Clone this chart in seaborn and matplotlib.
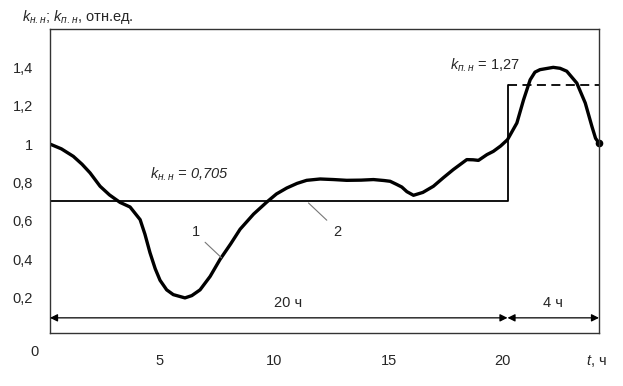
import matplotlib
matplotlib.use("Agg")
import matplotlib.pyplot as plt
import seaborn as sns
import pandas as pd

# ---- data ----
hours = [0, 0.5, 1.02, 1.4, 1.75, 2.19, 2.6, 3.06, 3.5, 3.94, 4.15, 4.37, 4.6, 4.81,
         5.1, 5.39, 5.9, 6.2, 6.56, 7.0, 7.43, 7.9, 8.31, 8.9, 9.48, 9.9, 10.35, 10.8,
         11.22, 11.81, 12.4, 12.97, 13.6, 14.14, 14.6, 14.87, 15.15, 15.38, 15.6, 15.89,
         16.3, 16.76, 17.2, 17.63, 18.22, 18.5, 18.73, 19.1, 19.38, 19.7, 20.0, 20.41,
         20.7, 20.99, 21.2, 21.42, 22.0, 22.3, 22.59, 23.03, 23.4, 23.69, 23.85, 24.0]
load = [1.00, 0.975, 0.936, 0.895, 0.85, 0.78, 0.735, 0.696, 0.672, 0.606, 0.53, 0.434,
        0.35, 0.29, 0.24, 0.215, 0.198, 0.21, 0.24, 0.31, 0.398, 0.48, 0.556, 0.635,
        0.698, 0.74, 0.771, 0.795, 0.811, 0.818, 0.815, 0.811, 0.812, 0.815, 0.81, 0.806,
        0.79, 0.776, 0.752, 0.733, 0.748, 0.78, 0.825, 0.867, 0.919, 0.918, 0.915, 0.945,
        0.962, 0.99, 1.023, 1.11, 1.23, 1.335, 1.375, 1.388, 1.40, 1.395, 1.38, 1.318,
        1.214, 1.092, 1.03, 1.005]

step_x = [0, 20, 20]
step_y = [0.705, 0.705, 1.31]
peak_x = [20, 24]
peak_y = [1.31, 1.31]

y_ticks = [0.2, 0.4, 0.6, 0.8, 1.0, 1.2, 1.4]
y_labels = ["0,2", "0,4", "0,6", "0,8", "1", "1,2", "1,4"]
x_ticks = [5, 10, 15, 20]
x_labels = ["5", "10", "15", "20"]

sns.set_style("white")
plt.rcParams['font.family'] = ['Liberation Sans', 'DejaVu Sans']
plt.rcParams['mathtext.fontset'] = 'custom'
plt.rcParams['mathtext.it'] = 'Liberation Sans:italic'
plt.rcParams['mathtext.rm'] = 'Liberation Sans'
plt.rcParams['font.size'] = 10.5

fig = plt.figure(figsize=(6.23, 3.86), dpi=100)
ax = fig.add_axes([50/623, 1-333/386, 549/623, (333-29)/386])

df = pd.DataFrame({"t": hours, "k": load})
sns.lineplot(data=df, x="t", y="k", ax=ax, color="black", linewidth=2.4,
             sort=False, estimator=None)
ax.plot([hours[-1]], [load[-1]], 'o', color='black', markersize=4.5, clip_on=False)

ax.plot(step_x, step_y, color="black", linewidth=1.3)
ax.plot(peak_x, peak_y, color="black", linewidth=1.3, linestyle=(0, (5, 3)))

ax.set_xlim(0, 24)
ax.set_ylim(0.015, 1.6)
ax.set_xticks(x_ticks)
ax.set_xticklabels([])
ax.set_yticks(y_ticks)
ax.set_yticklabels(y_labels)
ax.tick_params(axis='y', direction='out', length=5, width=1, pad=7.5, labelsize=10.5)
ax.tick_params(axis='x', direction='out', length=7, width=1, labelsize=10.5)
ax.set_xlabel("")
ax.set_ylabel("")
for s in ax.spines.values():
    s.set_color("#333333")
    s.set_linewidth(1.0)

# x tick labels (slightly left of the ticks, as in the reference)
for xv, lab in zip(x_ticks, x_labels):
    ax.text(xv - 0.2, -0.132, lab, ha='center', va='center', fontsize=10.5,
            clip_on=False)

# origin and axis labels
ax.text(-0.66, -0.085, "0", ha='center', va='center', fontsize=10.5, clip_on=False)
ax.text(23.9, -0.132, "$t$, ч", ha='center', va='center', fontsize=10.5, clip_on=False)
fig.text(22/623, 1-17/386, "$k_{н{.}н}$; $k_{п{.}н}$, отн.ед.", ha='left', va='center',
         fontsize=10.5)

# annotations
ax.text(4.35, 0.84, "$k_{н{.}н}$ = 0,705", ha='left', va='center', fontsize=10.5,
        style='italic')
ax.text(17.5, 1.41, "$k_{п{.}н}$ = 1,27", ha='left', va='center', fontsize=10.5)
ax.text(6.4, 0.54, "1", ha='center', va='center', fontsize=10.5)
ax.plot([6.78, 7.5], [0.488, 0.407], color="#777777", linewidth=0.8)
ax.text(12.56, 0.54, "2", ha='center', va='center', fontsize=10.5)
ax.plot([11.3, 12.1], [0.693, 0.603], color="#777777", linewidth=0.8)

# duration arrows
arrow_kw = dict(arrowstyle='<|-|>', color='black', lw=0.9,
                mutation_scale=11, shrinkA=0, shrinkB=0)
ax.annotate("", xy=(0, 0.094), xytext=(20, 0.094), arrowprops=arrow_kw)
ax.annotate("", xy=(20, 0.094), xytext=(24, 0.094), arrowprops=arrow_kw)
ax.text(10.4, 0.172, "20 ч", ha='center', va='center', fontsize=10.5)
ax.text(22.0, 0.172, "4 ч", ha='center', va='center', fontsize=10.5)

fig.savefig("out.png", dpi=100)
